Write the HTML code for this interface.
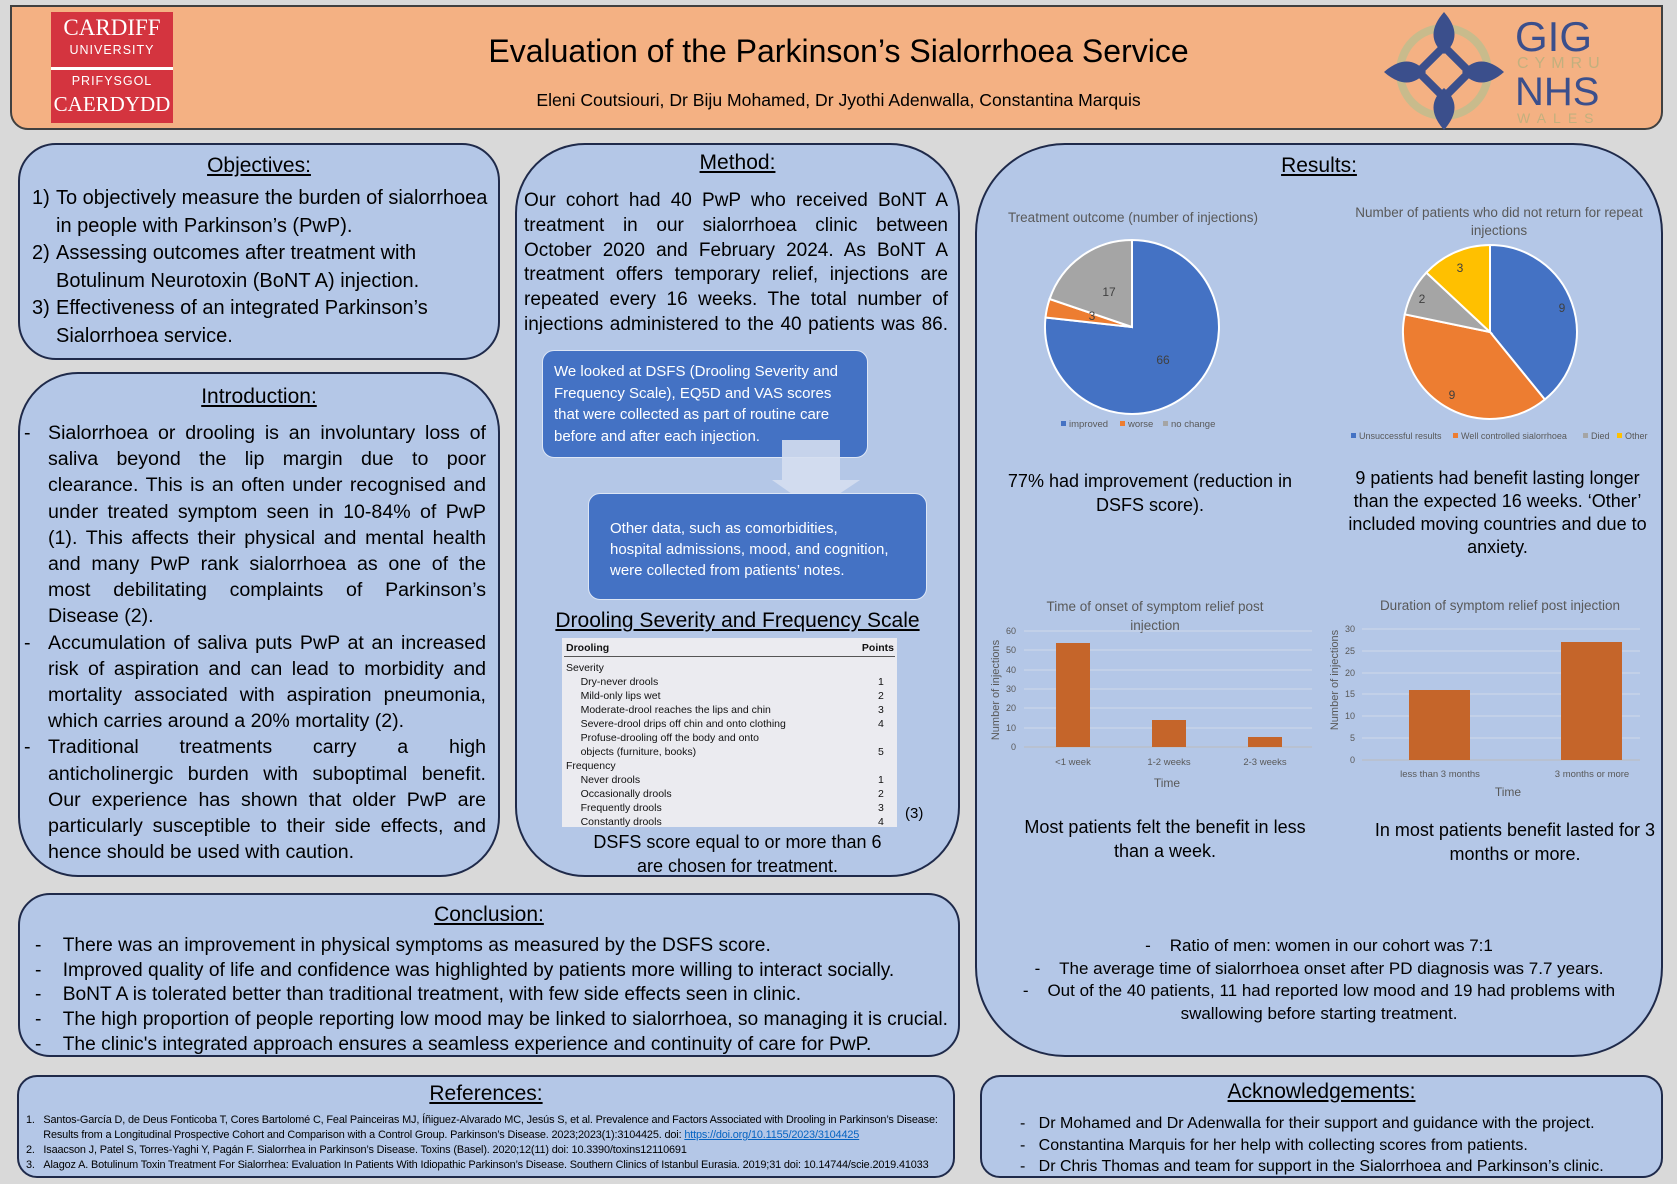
<!DOCTYPE html>
<html><head><meta charset="utf-8">
<style>
*{margin:0;padding:0;box-sizing:border-box}
body{width:1677px;height:1184px;background:#d9d9d9;position:relative;overflow:hidden;font-family:"Liberation Sans",sans-serif;color:#000}
.box{position:absolute;background:#b4c7e7;border:2.5px solid #1f2a4a}
.a{position:absolute;white-space:nowrap}
.h{position:absolute;font-size:21px;text-decoration:underline;text-align:center;white-space:nowrap}
.c{text-align:center}
.j{position:absolute;font-size:18px;line-height:25px;text-align:justify}
.li{position:relative;padding-left:28px}
.li b{position:absolute;left:4px;font-weight:normal}
.l{text-align:justify;text-align-last:justify;white-space:nowrap;overflow:visible}
.e{text-align:left;white-space:nowrap}
.g{fill:#595959;font-family:"Liberation Sans",sans-serif}
</style></head><body>

<!-- header -->
<div class="box" style="left:10px;top:5px;width:1653px;height:125px;background:#f4b183;border:2px solid #404040;border-radius:0 0 18px 18px"></div>
<div style="position:absolute;left:51px;top:12px;width:122px;height:111px;background:#d4343f;overflow:hidden"></div>
<div style="position:absolute;left:51px;top:67px;width:122px;height:3px;background:#fff"></div>
<div class="a" style="left:51px;top:15px;width:122px;text-align:center;color:#fff;font-family:'Liberation Serif',serif;font-size:23px;line-height:26px">CARDIFF</div>
<div class="a" style="left:51px;top:43px;width:122px;text-align:center;color:#fff;font-size:12.5px;letter-spacing:1px">UNIVERSITY</div>
<div class="a" style="left:51px;top:74px;width:122px;text-align:center;color:#fff;font-size:12.5px;letter-spacing:1px">PRIFYSGOL</div>
<div class="a" style="left:51px;top:91px;width:122px;text-align:center;color:#fff;font-family:'Liberation Serif',serif;font-size:21px;line-height:26px">CAERDYDD</div>
<div class="a c" style="left:0;width:1677px;top:33px;font-size:32px">Evaluation of the Parkinson’s Sialorrhoea Service</div>
<div class="a c" style="left:0;width:1677px;top:90px;font-size:17.6px">Eleni Coutsiouri, Dr Biju Mohamed, Dr Jyothi Adenwalla, Constantina Marquis</div>
<svg style="position:absolute;left:1380px;top:8px" width="130" height="126" viewBox="0 0 130 126">
<circle cx="64" cy="64" r="44" fill="none" stroke="#c8bb8c" stroke-width="8"/>
<g fill="#3b4f8c">
<path d="M64 4 C50 20 50 34 64 46 C78 34 78 20 64 4Z M64 122 C50 106 50 92 64 80 C78 92 78 106 64 122Z M4 64 C20 50 34 50 46 64 C34 78 20 78 4 64Z M124 64 C108 50 94 50 82 64 C94 78 108 78 124 64Z"/>
<rect x="46" y="46" width="36" height="36" fill="none" stroke="#3b4f8c" stroke-width="8" transform="rotate(45 64 64)"/>
</g></svg>
<div class="a" style="left:1515px;top:16px;font-size:42px;line-height:42px;color:#3b4f8c">GIG</div>
<div class="a" style="left:1517px;top:55px;font-size:16px;letter-spacing:6px;color:#c2b07e">CYMRU</div>
<div class="a" style="left:1515px;top:72px;font-size:40px;line-height:40px;color:#3b4f8c">NHS</div>
<div class="a" style="left:1517px;top:110px;font-size:14px;letter-spacing:7px;color:#c2b07e">WALES</div>

<!-- objectives -->
<div class="box" style="left:18px;top:143px;width:482px;height:217px;border-radius:38px"></div>
<div class="h" style="left:18px;width:482px;top:154px">Objectives:</div>
<div class="j" style="left:28px;top:185px;width:470px;font-size:20px;line-height:27.6px;text-align:left">
<div class="li"><b>1)</b>To objectively measure the burden of sialorrhoea in people with Parkinson’s (PwP).</div>
<div class="li"><b>2)</b>Assessing outcomes after treatment with Botulinum Neurotoxin (BoNT A) injection.</div>
<div class="li"><b>3)</b>Effectiveness of an integrated Parkinson’s Sialorrhoea service.</div>
</div>

<!-- introduction -->
<div class="box" style="left:18px;top:372px;width:482px;height:505px;border-radius:60px"></div>
<div class="h" style="left:18px;width:482px;top:385px">Introduction:</div>
<div style="position:absolute;left:20px;top:420px;width:466px;font-size:19.6px;line-height:26.2px">
<div class="a" style="left:4px;top:0">-</div>
<div class="a" style="left:4px;top:209.6px">-</div>
<div class="a" style="left:4px;top:314.4px">-</div>
<div style="margin-left:28px;width:438px">
<div class="l">Sialorrhoea or drooling is an involuntary loss of</div>
<div class="l">saliva beyond the lip margin due to poor</div>
<div class="l">clearance. This is an often under recognised and</div>
<div class="l">under treated symptom seen in 10-84% of PwP</div>
<div class="l">(1). This affects their physical and mental health</div>
<div class="l">and many PwP rank sialorrhoea as one of the</div>
<div class="l">most debilitating complaints of Parkinson’s</div>
<div class="e">Disease (2).</div>
<div class="l">Accumulation of saliva puts PwP at an increased</div>
<div class="l">risk of aspiration and can lead to morbidity and</div>
<div class="l">mortality associated with aspiration pneumonia,</div>
<div class="e">which carries around a 20% mortality (2).</div>
<div class="l">Traditional treatments carry a high</div>
<div class="l">anticholinergic burden with suboptimal benefit.</div>
<div class="l">Our experience has shown that older PwP are</div>
<div class="l">particularly susceptible to their side effects, and</div>
<div class="e">hence should be used with caution.</div>
</div></div>

<!-- method -->
<div class="box" style="left:515px;top:143px;width:445px;height:734px;border-radius:70px"></div>
<div class="h" style="left:515px;width:445px;top:151px">Method:</div>
<div style="position:absolute;left:524px;top:189px;width:424px;font-size:19px;line-height:24.8px">
<div class="l">Our cohort had 40 PwP who received BoNT A</div>
<div class="l">treatment in our sialorrhoea clinic between</div>
<div class="l">October 2020 and February 2024. As BoNT A</div>
<div class="l">treatment offers temporary relief, injections are</div>
<div class="l">repeated every 16 weeks. The total number of</div>
<div class="l">injections administered to the 40 patients was 86.</div>
</div>
<div style="position:absolute;left:542px;top:350px;width:326px;height:108px;background:#4472c4;border:1.5px solid #dde6f5;border-radius:12px"></div>
<div class="a" style="left:554px;top:361px;color:#fff;font-size:15px;line-height:21.7px">We looked at DSFS (Drooling Severity and<br>Frequency Scale), EQ5D and VAS scores<br>that were collected as part of routine care<br>before and after each injection.</div>
<svg style="position:absolute;left:770px;top:440px" width="92" height="72"><path d="M12 0 H70 V40 H90 L45 70 L2 40 H12Z" fill="#d5def0" opacity="0.9"/></svg>
<div style="position:absolute;left:588px;top:493px;width:339px;height:107px;background:#4472c4;border:1.5px solid #dde6f5;border-radius:12px"></div>
<div class="a" style="left:610px;top:518px;color:#fff;font-size:15px;line-height:21px">Other data, such as comorbidities,<br>hospital admissions, mood, and cognition,<br>were collected from patients’ notes.</div>
<div class="h" style="left:515px;width:445px;top:609px">Drooling Severity and Frequency Scale</div>
<div style="position:absolute;left:562px;top:638px;width:335px;height:189px;background:#ebebf0;font-size:10.5px;color:#111">
<div class="a" style="left:4px;top:4px;font-weight:bold">Drooling</div>
<div class="a" style="right:3px;top:4px;font-weight:bold">Points</div>
<div style="position:absolute;left:2px;right:2px;top:18px;height:1px;background:#555"></div>
<div class="a" style="left:4px;top:23px;line-height:14px">Severity<br>&nbsp;&nbsp;&nbsp;&nbsp;&nbsp;Dry-never drools<br>&nbsp;&nbsp;&nbsp;&nbsp;&nbsp;Mild-only lips wet<br>&nbsp;&nbsp;&nbsp;&nbsp;&nbsp;Moderate-drool reaches the lips and chin<br>&nbsp;&nbsp;&nbsp;&nbsp;&nbsp;Severe-drool drips off chin and onto clothing<br>&nbsp;&nbsp;&nbsp;&nbsp;&nbsp;Profuse-drooling off the body and onto<br>&nbsp;&nbsp;&nbsp;&nbsp;&nbsp;objects (furniture, books)<br>Frequency<br>&nbsp;&nbsp;&nbsp;&nbsp;&nbsp;Never drools<br>&nbsp;&nbsp;&nbsp;&nbsp;&nbsp;Occasionally drools<br>&nbsp;&nbsp;&nbsp;&nbsp;&nbsp;Frequently drools<br>&nbsp;&nbsp;&nbsp;&nbsp;&nbsp;Constantly drools</div>
<div class="a" style="left:316px;top:23px;line-height:14px;text-align:center">&nbsp;<br>1<br>2<br>3<br>4<br>&nbsp;<br>5<br>&nbsp;<br>1<br>2<br>3<br>4</div>
</div>
<div class="a" style="left:905px;top:805px;font-size:15px">(3)</div>
<div class="a c" style="left:515px;width:445px;top:831px;font-size:18px;line-height:23.5px">DSFS score equal to or more than 6<br>are chosen for treatment.</div>

<!-- results -->
<div class="box" style="left:975px;top:143px;width:688px;height:914px;border-radius:90px"></div>
<div class="h" style="left:975px;width:688px;top:154px">Results:</div>
<svg style="position:absolute;left:0;top:0" width="1677" height="1184">
<text class="g" x="1133" y="222" font-size="13.5" text-anchor="middle">Treatment outcome (number of injections)</text>
<g stroke="#fff" stroke-width="2">
<path d="M1132 327 L1132 240 A87 87 0 1 1 1045.5 317.5Z" fill="#4472c4"/>
<path d="M1132 327 L1045.5 317.5 A87 87 0 0 1 1049.6 299Z" fill="#ed7d31"/>
<path d="M1132 327 L1049.6 299 A87 87 0 0 1 1132 240Z" fill="#a5a5a5"/>
</g>
<text x="1163" y="364" font-size="12" fill="#404040" text-anchor="middle">66</text>
<text x="1092" y="320" font-size="12" fill="#404040" text-anchor="middle">3</text>
<text x="1109" y="296" font-size="12" fill="#404040" text-anchor="middle">17</text>
<g font-size="9.5" class="g"><rect x="1061" y="421" width="5" height="5" fill="#4472c4"/><text x="1069" y="427">improved</text>
<rect x="1120" y="421" width="5" height="5" fill="#ed7d31"/><text x="1128" y="427">worse</text>
<rect x="1163" y="421" width="5" height="5" fill="#a5a5a5"/><text x="1171" y="427">no change</text></g>

<text class="g" x="1499" y="217" font-size="13.5" text-anchor="middle">Number of patients who did not return for repeat</text>
<text class="g" x="1499" y="235" font-size="13.5" text-anchor="middle">injections</text>
<g stroke="#fff" stroke-width="2">
<path d="M1490 332 L1490 245 A87 87 0 0 1 1544.8 399.5Z" fill="#4472c4"/>
<path d="M1490 332 L1544.8 399.5 A87 87 0 0 1 1404.8 314.3Z" fill="#ed7d31"/>
<path d="M1490 332 L1404.8 314.3 A87 87 0 0 1 1426.4 272.6Z" fill="#a5a5a5"/>
<path d="M1490 332 L1426.4 272.6 A87 87 0 0 1 1490 245Z" fill="#ffc000"/>
</g>
<text x="1562" y="312" font-size="12" fill="#404040" text-anchor="middle">9</text>
<text x="1452" y="399" font-size="12" fill="#404040" text-anchor="middle">9</text>
<text x="1422" y="303" font-size="12" fill="#404040" text-anchor="middle">2</text>
<text x="1460" y="272" font-size="12" fill="#404040" text-anchor="middle">3</text>
<g font-size="9" class="g"><rect x="1351" y="433" width="5" height="5" fill="#4472c4"/><text x="1359" y="439">Unsuccessful results</text>
<rect x="1453" y="433" width="5" height="5" fill="#ed7d31"/><text x="1461" y="439">Well controlled sialorrhoea</text>
<rect x="1583" y="433" width="5" height="5" fill="#a5a5a5"/><text x="1591" y="439">Died</text>
<rect x="1617" y="433" width="5" height="5" fill="#ffc000"/><text x="1625" y="439">Other</text></g>

<!-- bar chart 1 -->
<text class="g" x="1155" y="611" font-size="13.5" text-anchor="middle">Time of onset of symptom relief post</text>
<text class="g" x="1155" y="630" font-size="13.5" text-anchor="middle">injection</text>
<g stroke="#d0d8e8" stroke-width="1">
<line x1="1024" y1="631" x2="1312" y2="631"/><line x1="1024" y1="650" x2="1312" y2="650"/><line x1="1024" y1="670" x2="1312" y2="670"/><line x1="1024" y1="689" x2="1312" y2="689"/><line x1="1024" y1="708" x2="1312" y2="708"/><line x1="1024" y1="728" x2="1312" y2="728"/></g>
<line x1="1024" y1="747" x2="1312" y2="747" stroke="#bbb"/>
<g font-size="9" class="g" text-anchor="end"><text x="1016" y="634">60</text><text x="1016" y="653">50</text><text x="1016" y="673">40</text><text x="1016" y="692">30</text><text x="1016" y="711">20</text><text x="1016" y="731">10</text><text x="1016" y="750">0</text></g>
<g fill="#c5652a"><rect x="1056" y="643" width="34" height="104"/><rect x="1152" y="720" width="34" height="27"/><rect x="1248" y="737" width="34" height="10"/></g>
<g font-size="9.5" class="g" text-anchor="middle"><text x="1073" y="765">&lt;1 week</text><text x="1169" y="765">1-2 weeks</text><text x="1265" y="765">2-3 weeks</text></g>
<text class="g" x="1167" y="787" font-size="12" text-anchor="middle">Time</text>
<text class="g" font-size="11" text-anchor="middle" transform="translate(999 690) rotate(-90)">Number of injections</text>

<!-- bar chart 2 -->
<text class="g" x="1500" y="610" font-size="13.5" text-anchor="middle">Duration of symptom relief post injection</text>
<g stroke="#d0d8e8" stroke-width="1">
<line x1="1362" y1="629" x2="1640" y2="629"/><line x1="1362" y1="651" x2="1640" y2="651"/><line x1="1362" y1="673" x2="1640" y2="673"/><line x1="1362" y1="694" x2="1640" y2="694"/><line x1="1362" y1="716" x2="1640" y2="716"/><line x1="1362" y1="738" x2="1640" y2="738"/></g>
<line x1="1362" y1="760" x2="1640" y2="760" stroke="#bbb"/>
<g font-size="9" class="g" text-anchor="end"><text x="1355" y="632">30</text><text x="1355" y="654">25</text><text x="1355" y="676">20</text><text x="1355" y="697">15</text><text x="1355" y="719">10</text><text x="1355" y="741">5</text><text x="1355" y="763">0</text></g>
<g fill="#c5652a"><rect x="1409" y="690" width="61" height="70"/><rect x="1561" y="642" width="61" height="118"/></g>
<g font-size="9.5" class="g" text-anchor="middle"><text x="1440" y="777">less than 3 months</text><text x="1592" y="777">3 months or more</text></g>
<text class="g" x="1508" y="796" font-size="12" text-anchor="middle">Time</text>
<text class="g" font-size="11" text-anchor="middle" transform="translate(1338 680) rotate(-90)">Number of injections</text>
</svg>
<div class="a c" style="left:990px;width:320px;top:470px;font-size:18px;line-height:23.5px">77% had improvement (reduction in<br>DSFS score).</div>
<div class="a c" style="left:1330px;width:335px;top:467px;font-size:18px;line-height:23px">9 patients had benefit lasting longer<br>than the expected 16 weeks. ‘Other’<br>included moving countries and due to<br>anxiety.</div>
<div class="a c" style="left:1000px;width:330px;top:816px;font-size:18px;line-height:23.5px">Most patients felt the benefit in less<br>than a week.</div>
<div class="a c" style="left:1350px;width:330px;top:819px;font-size:18px;line-height:23.5px">In most patients benefit lasted for 3<br>months or more.</div>
<div class="a c" style="left:975px;width:688px;top:935px;font-size:17px;line-height:22.5px">-&nbsp;&nbsp;&nbsp;&nbsp;Ratio of men: women in our cohort was 7:1<br>-&nbsp;&nbsp;&nbsp;&nbsp;The average time of sialorrhoea onset after PD diagnosis was 7.7 years.<br>-&nbsp;&nbsp;&nbsp;&nbsp;Out of the 40 patients, 11 had reported low mood and 19 had problems with<br>swallowing before starting treatment.</div>

<!-- conclusion -->
<div class="box" style="left:18px;top:893px;width:942px;height:164px;border-radius:32px"></div>
<div class="h" style="left:18px;width:942px;top:903px">Conclusion:</div>
<div class="a" style="left:35px;top:934px;font-size:19.2px;line-height:24.7px">
-&nbsp;&nbsp;&nbsp;&nbsp;There was an improvement in physical symptoms as measured by the DSFS score.<br>
-&nbsp;&nbsp;&nbsp;&nbsp;Improved quality of life and confidence was highlighted by patients more willing to interact socially.<br>
-&nbsp;&nbsp;&nbsp;&nbsp;BoNT A is tolerated better than traditional treatment, with few side effects seen in clinic.<br>
-&nbsp;&nbsp;&nbsp;&nbsp;The high proportion of people reporting low mood may be linked to sialorrhoea, so managing it is crucial.<br>
-&nbsp;&nbsp;&nbsp;&nbsp;The clinic's integrated approach ensures a seamless experience and continuity of care for PwP.</div>

<!-- references -->
<div class="box" style="left:17px;top:1075px;width:938px;height:103px;border-radius:20px"></div>
<div class="h" style="left:17px;width:938px;top:1082px">References:</div>
<div class="a" style="left:26px;top:1113px;font-size:10.9px;line-height:15px;letter-spacing:-0.15px">
1.&nbsp;&nbsp;&nbsp;Santos-García D, de Deus Fonticoba T, Cores Bartolomé C, Feal Painceiras MJ, Íñiguez-Alvarado MC, Jesús S, et al. Prevalence and Factors Associated with Drooling in Parkinson’s Disease:<br>
&nbsp;&nbsp;&nbsp;&nbsp;&nbsp;&nbsp;Results from a Longitudinal Prospective Cohort and Comparison with a Control Group. Parkinson’s Disease. 2023;2023(1):3104425. doi: <span style="color:#0563c1;text-decoration:underline">https://doi.org/10.1155/2023/3104425</span><br>
2.&nbsp;&nbsp;&nbsp;Isaacson J, Patel S, Torres-Yaghi Y, Pagán F. Sialorrhea in Parkinson’s Disease. Toxins (Basel). 2020;12(11) doi: 10.3390/toxins12110691<br>
3.&nbsp;&nbsp;&nbsp;Alagoz A. Botulinum Toxin Treatment For Sialorrhea: Evaluation In Patients With Idiopathic Parkinson’s Disease. Southern Clinics of Istanbul Eurasia. 2019;31 doi: 10.14744/scie.2019.41033</div>

<!-- acknowledgements -->
<div class="box" style="left:980px;top:1075px;width:683px;height:103px;border-radius:20px"></div>
<div class="h" style="left:980px;width:683px;top:1080px">Acknowledgements:</div>
<div class="a" style="left:1020px;top:1113px;font-size:16px;line-height:21.5px">
-&nbsp;&nbsp;&nbsp;Dr Mohamed and Dr Adenwalla for their support and guidance with the project.<br>
-&nbsp;&nbsp;&nbsp;Constantina Marquis for her help with collecting scores from patients.<br>
-&nbsp;&nbsp;&nbsp;Dr Chris Thomas and team for support in the Sialorrhoea and Parkinson’s clinic.</div>
</body></html>
